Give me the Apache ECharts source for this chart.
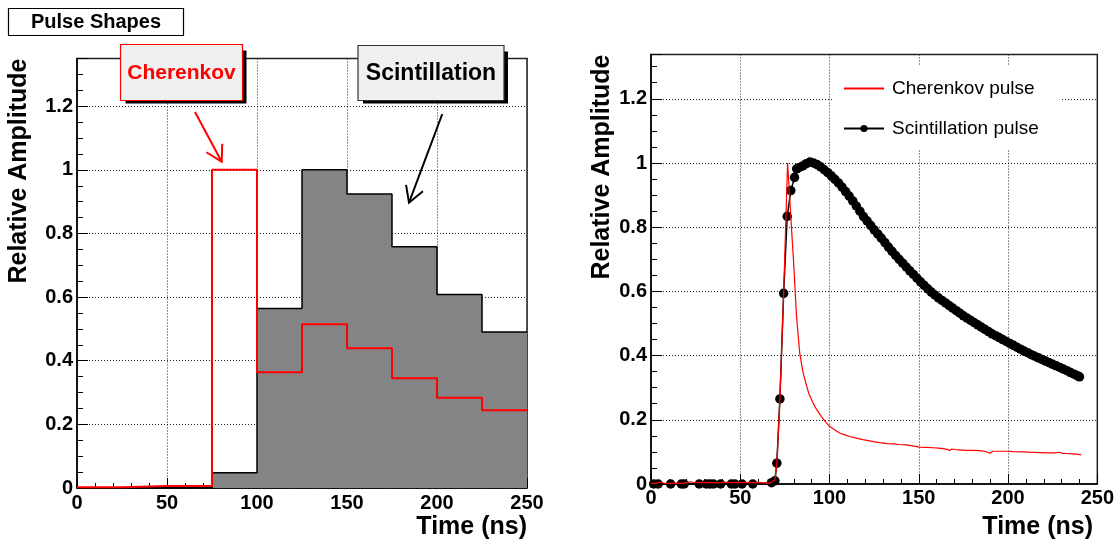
<!DOCTYPE html>
<html><head><meta charset="utf-8">
<script src="https://cdn.jsdelivr.net/npm/echarts@6/dist/echarts.min.js"></script>
<style>html,body{margin:0;padding:0;background:#fff}#c{width:1117px;height:541px}</style>
</head><body><div id="c"></div>
<script>
// ---- Left panel: binned pulse shapes (25 ns bins) ----
const binEdges = [0, 25, 50, 75, 100, 125, 150, 175, 200, 225];
const histEnd = 250;
const scintHist = [0, 0, 0, 0.048, 0.564, 1.0, 0.924, 0.758, 0.608, 0.49];
const cherHist = [0.002, 0.006, 0.006, 1.0, 0.3635, 0.515, 0.439, 0.345, 0.284, 0.244];

// ---- Right panel: sampled pulses ----
const cherTime = [0,3,5,7,10,14,18,20,22,25,30,35,38,40,45,50,55,60,64,66,
  67.5,69.4,70.5,72.2,74.3,76.5,80,81.5,83.3,85.2,86.7,88.5,90.8,93,95.5,98,100.1,103,105.7,
  108.5,111.3,115,118.7,121,124.4,128.1,132,135.6,139,143,146.5,150.4,154,157.9,161,163.5,166,167.2,168.5,
  172,176.6,180,184,187,190,191.5,195,198.9,203,208.3,212,217.6,222,226,229,230.5,233,236.2,238.5,241];
const cherAmp = [0.002,0.002,0.006,0.003,0.002,0.003,0.002,0.005,0.007,0.004,0.005,0.004,0.003,0.006,0.004,0.005,0.004,0.005,0.003,0.002,
  0.006,0.012,0.065,0.265,0.594,1.0,0.679,0.523,0.408,0.346,0.315,0.280,0.252,0.230,0.210,0.192,0.179,0.168,0.159,
  0.153,0.148,0.143,0.138,0.136,0.132,0.129,0.126,0.125,0.123,0.122,0.119,0.115,0.114,0.113,0.112,0.110,0.108,0.104,0.109,
  0.106,0.105,0.105,0.104,0.102,0.096,0.102,0.102,0.102,0.101,0.100,0.099,0.098,0.097,0.097,0.099,0.095,0.095,0.094,0.093,0.091];

const scintTime = [1.5,4,11,17,18.6,27,31,33,35,39,45,47,51,57,67.5,69.4,70.5,72.2,74.3,76.3,78.3,80.4,81.6,83,
  85,87,89,91,93,95,97,99,101,103,105,107,109,111,113,115,117,119,121,123,125,127,129,131,133,135,137,139,
  141,143,145,147,149,151,153,155,157,159,161,163,165,167,169,171,173,175,177,179,181,183,185,187,189,191,
  193,195,197,199,201,203,205,207,209,211,213,215,217,219,221,223,225,227,229,231,233,235,237,239,240];
const scintAmp = [0,0,0,0,0,0,0,0,0,0,0,0,0,0,0.004,0.01,0.065,0.265,0.594,0.834,0.914,0.955,0.982,0.986,
  0.991,0.998,1.003,1.0,0.995,0.988,0.979,0.970,0.960,0.949,0.938,0.925,0.911,0.897,0.882,0.866,0.850,0.833,0.820,0.806,0.792,0.779,0.766,0.752,0.738,0.725,0.712,0.700,
  0.688,0.676,0.664,0.653,0.641,0.630,0.619,0.608,0.598,0.589,0.580,0.572,0.564,0.556,0.548,0.540,0.532,0.524,0.517,0.510,0.503,0.496,0.489,0.482,0.475,0.468,
  0.462,0.456,0.450,0.444,0.438,0.432,0.426,0.420,0.414,0.409,0.403,0.398,0.393,0.388,0.383,0.378,0.373,0.368,0.363,0.358,0.353,0.347,0.342,0.337,0.334];

const xTicks = [0, 50, 100, 150, 200, 250];
const yTicks = [0, 0.2, 0.4, 0.6, 0.8, 1, 1.2];
const yTickLabels = ['0', '0.2', '0.4', '0.6', '0.8', '1', '1.2'];

const FONT = '"Liberation Sans", Arial, Helvetica, sans-serif';

function stepData(vals) {
  const d = binEdges.map((e, i) => [e, vals[i]]);
  d.push([histEnd, vals[vals.length - 1]]);
  return d;
}
function zip(a, b) { return a.map((v, i) => [v, b[i]]); }

const gridLine = { show: true, lineStyle: { color: '#222', width: 1, type: [1, 2] } };

function xAxisCfg(gi, margin) {
  return {
    type: 'value', gridIndex: gi, min: xTicks[0], max: xTicks[xTicks.length - 1], interval: 50,
    axisLine: { show: true, onZero: false, lineStyle: { color: '#000', width: 1.5 } },
    axisTick: { show: true, inside: true, length: 10, lineStyle: { color: '#000', width: 1 } },
    minorTick: { show: true, splitNumber: 5, length: 5, lineStyle: { color: '#000', width: 1 } },
    axisLabel: { margin: margin, color: '#000', fontFamily: FONT, fontWeight: 'bold', fontSize: 20,
      formatter: v => xTicks.indexOf(v) >= 0 ? String(v) : '' },
    splitLine: gridLine
  };
}
function yAxisCfg(gi, max) {
  return {
    type: 'value', gridIndex: gi, min: 0, max: max, interval: 0.2,
    axisLine: { show: true, onZero: false, lineStyle: { color: '#000', width: 1.5 } },
    axisTick: { show: true, inside: true, length: 11, lineStyle: { color: '#000', width: 1 } },
    minorTick: { show: true, splitNumber: 4, length: 6, lineStyle: { color: '#000', width: 1 } },
    axisLabel: { margin: 4, color: '#000', fontFamily: FONT, fontWeight: 'bold', fontSize: 20,
      showMaxLabel: false,
      formatter: v => { const k = yTicks.findIndex(t => Math.abs(t - v) < 1e-6); return k >= 0 ? yTickLabels[k] : ''; } },
    splitLine: gridLine
  };
}

function box(x, y, w, h, stroke, label, color, fsize) {
  return [
    { type: 'rect', z: 100, shape: { x: x + 5, y: y + 6, width: w - 1, height: h - 3 }, style: { fill: '#000' } },
    { type: 'rect', z: 101, shape: { x: x, y: y, width: w, height: h }, style: { fill: '#f0f0f0', stroke: stroke, lineWidth: 1.2 } },
    { type: 'text', z: 102, x: x + w / 2, y: y + h / 2 + 1, style: { text: label, fill: color, font: 'bold ' + fsize + 'px ' + FONT, align: 'center', verticalAlign: 'middle' } }
  ];
}
function arrow(x1, y1, x2, y2, color) {
  const a = Math.atan2(y1 - y2, x1 - x2), L = 18, s = Math.PI / 6;
  return [
    { type: 'line', z: 100, shape: { x1: x1, y1: y1, x2: x2, y2: y2 }, style: { stroke: color, lineWidth: 2 } },
    { type: 'polyline', z: 100, shape: { points: [[x2 + L * Math.cos(a + s), y2 + L * Math.sin(a + s)], [x2, y2], [x2 + L * Math.cos(a - s), y2 + L * Math.sin(a - s)]] },
      style: { stroke: color, lineWidth: 2, fill: null } }
  ];
}

const chart = echarts.init(document.getElementById('c'), null, { renderer: 'canvas' });
chart.setOption({
  animation: false,
  backgroundColor: '#fff',
  grid: [
    { left: 77, top: 58.5, width: 450, height: 429.5, show: true, borderColor: '#222', borderWidth: 1.5, backgroundColor: '#fff' },
    { left: 651, top: 54.5, width: 447, height: 429.5, show: true, borderColor: '#222', borderWidth: 1.5, backgroundColor: '#fff' }
  ],
  xAxis: [xAxisCfg(0, 5), xAxisCfg(1, 4)],
  yAxis: [yAxisCfg(0, 1.35), yAxisCfg(1, 1.338)],
  legend: {
    data: [
      { name: 'Cherenkov pulse', itemStyle: { opacity: 0 } },
      { name: 'Scintillation pulse' }
    ],
    orient: 'vertical', left: 833, top: 65, padding: [14, 21, 11, 10],
    itemWidth: 40, itemHeight: 9, itemGap: 21, selectedMode: false,
    backgroundColor: '#fff',
    textStyle: { fontFamily: FONT, fontSize: 19, color: '#000', padding: [0, 0, 0, 3] }
  },
  series: [
    { type: 'line', xAxisIndex: 0, yAxisIndex: 0, data: stepData(scintHist), step: 'end', symbol: 'none', z: 2,
      lineStyle: { color: '#000', width: 1.5 }, areaStyle: { color: '#848484', opacity: 1 } },
    { type: 'line', xAxisIndex: 0, yAxisIndex: 0, data: stepData(cherHist), step: 'end', symbol: 'none', z: 3,
      lineStyle: { color: '#ff0000', width: 2 } },
    { name: 'Scintillation pulse', type: 'line', xAxisIndex: 1, yAxisIndex: 1, data: zip(scintTime, scintAmp), z: 3,
      symbol: 'circle', symbolSize: 9.5, itemStyle: { color: '#000' }, lineStyle: { color: '#000', width: 1.5 } },
    { name: 'Cherenkov pulse', type: 'line', xAxisIndex: 1, yAxisIndex: 1, data: zip(cherTime, cherAmp), z: 4,
      symbol: 'none', itemStyle: { color: '#ff0000' }, lineStyle: { color: '#ff0000', width: 1.2 } }
  ],
  graphic: [
    { type: 'rect', z: 100, shape: { x: 8.5, y: 8.5, width: 175, height: 27 }, style: { fill: '#fff', stroke: '#000', lineWidth: 1.2 } },
    { type: 'text', z: 101, x: 96, y: 22.5, style: { text: 'Pulse Shapes', fill: '#000', font: 'bold 20px ' + FONT, align: 'center', verticalAlign: 'middle' } },
    ...box(120.5, 44.5, 122, 56, '#ff0000', 'Cherenkov', '#ff0000', 21),
    ...box(358, 45.5, 146, 55, '#333', 'Scintillation', '#000', 23),
    ...arrow(195, 112, 221.7, 161.7, '#ff0000'),
    ...arrow(442.3, 114, 409, 202.7, '#000'),
    { type: 'text', z: 100, x: 19, y: 58.5, rotation: Math.PI / 2, style: { text: 'Relative Amplitude', fill: '#000', font: 'bold 25px ' + FONT, align: 'right', verticalAlign: 'middle' } },
    { type: 'text', z: 100, x: 602.5, y: 54.5, rotation: Math.PI / 2, style: { text: 'Relative Amplitude', fill: '#000', font: 'bold 25px ' + FONT, align: 'right', verticalAlign: 'middle' } },
    { type: 'text', z: 100, x: 527, y: 527, style: { text: 'Time (ns)', fill: '#000', font: 'bold 25px ' + FONT, align: 'right', verticalAlign: 'middle' } },
    { type: 'text', z: 100, x: 1093, y: 527, style: { text: 'Time (ns)', fill: '#000', font: 'bold 25px ' + FONT, align: 'right', verticalAlign: 'middle' } }
  ]
});
</script></body></html>
